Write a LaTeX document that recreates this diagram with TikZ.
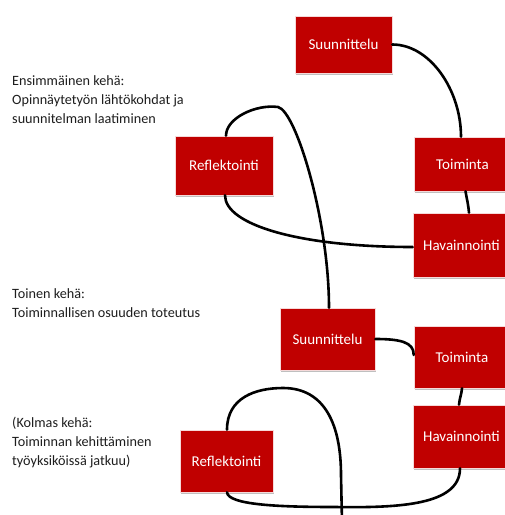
\documentclass[tikz,border=0pt]{standalone}
\usepackage{fontspec}
\setmainfont{Carlito}
\usetikzlibrary{shadows}
\definecolor{boxred}{RGB}{192,0,0}
\definecolor{labelgray}{RGB}{30,30,30}
\tikzset{
  stagebox/.style={rectangle, fill=boxred, draw=white!85!boxred, line width=0.6pt, inner sep=0pt,
    text=white, font=\fontsize{15}{18}\selectfont,
    drop shadow={shadow xshift=1.2pt, shadow yshift=-1.8pt, fill=black, opacity=0.25}},
  cyclelabel/.style={anchor=base west, align=left, inner sep=0pt, text=labelgray,
    font=\fontsize{14.2}{19}\selectfont},
  link/.style={draw=black, line width=2.6pt, line cap=round}
}
\begin{document}
\begin{tikzpicture}[x=1pt,y=-1pt]
\useasboundingbox (0,0) rectangle (505,515);
\fill[white] (0,0) rectangle (505,515);

% labels (anchor = baseline of the last line)
\node[cyclelabel] (lab1) at (12,123.5) {Ensimmäinen kehä:\\Opinnäytetyön lähtökohdat ja\\suunnitelman laatiminen};
\node[cyclelabel] (lab2) at (12,317) {Toinen kehä:\\Toiminnallisen osuuden toteutus};
\node[cyclelabel] (lab3) at (12,465) {(Kolmas kehä:\\Toiminnan kehittäminen\\työyksiköissä jatkuu)};

% boxes
\node[stagebox, minimum width=97pt, minimum height=57pt] (S1) at (343.5,44.5) {Suunnittelu};
\node[stagebox, minimum width=97pt, minimum height=54pt] (T1) at (462.5,164) {Toiminta};
\node[stagebox, minimum width=97pt, minimum height=64pt] (H1) at (461.5,245) {Havainnointi};
\node[stagebox, minimum width=98pt, minimum height=59pt] (R1) at (224,165.5) {Reflektointi};
\node[stagebox, minimum width=95pt, minimum height=62pt] (S2) at (327.5,339) {Suunnittelu};
\node[stagebox, minimum width=96pt, minimum height=62pt] (T2) at (462,357) {Toiminta};
\node[stagebox, minimum width=97pt, minimum height=63pt] (H2) at (461.5,436.5) {Havainnointi};
\node[stagebox, minimum width=93pt, minimum height=62pt] (R2) at (226.5,461) {Reflektointi};
\coordinate (tail) at (342,522);

% connectors
\draw[link] (S1.east) .. controls (430,44.5) and (461,90) .. ([xshift=-1.5pt]T1.north);
\draw[link] ([xshift=3pt]T1.south) to[out=-80,in=95] ([xshift=7.5pt]H1.north);
\draw[link] ([yshift=-2pt]H1.west) .. controls (300,247) and (225,225) .. ([xshift=1pt]R1.south);
\draw[link] ([xshift=2pt]R1.north) .. controls (226,118) and (256,104) .. (278,107)
  .. controls (296,111) and (329,220) .. ([xshift=1.5pt]S2.north);
\draw[link] (S2.east) .. controls (400,339) and (414,342) .. ([yshift=2pt]T2.west);
\draw[link] (T2.south) to[out=-95,in=85] ([xshift=-2.5pt]H2.north);
\draw[link] ([xshift=-1.5pt]H2.south) .. controls (460,505) and (400,508) .. (335,507)
  .. controls (280,507) and (228,505) .. ([xshift=0.5pt]R2.south);
\draw[link] ([xshift=0.5pt]R2.north) .. controls (227,398) and (255,388) .. (283,388)
  .. controls (325,388) and (341,425) .. (341,475) -- (tail);
\end{tikzpicture}
\end{document}
